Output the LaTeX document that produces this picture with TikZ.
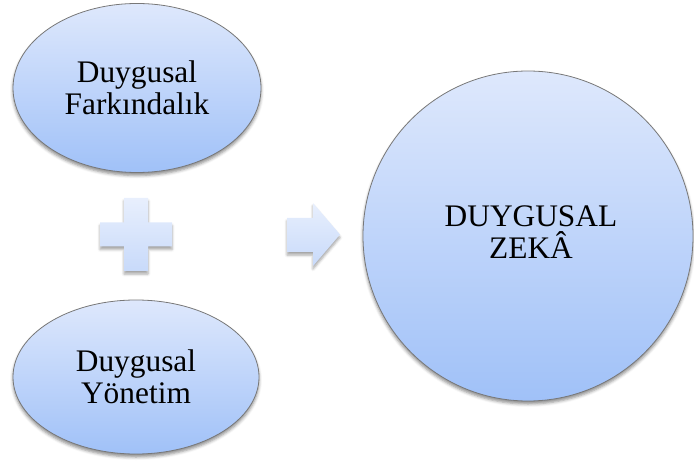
\documentclass[tikz,border=0pt]{standalone}
\usepackage{fontspec}
\setmainfont{Liberation Serif}
\usetikzlibrary{shapes.geometric,shadows.blur}

\definecolor{bubbletop}{RGB}{222,232,252}
\definecolor{bubblebot}{RGB}{160,193,248}
\definecolor{signtop}{RGB}{232,239,253}
\definecolor{signbot}{RGB}{200,218,250}
\definecolor{rimgray}{RGB}{120,120,120}

\tikzset{
  bubble/.style={draw=rimgray, line width=0.8bp, inner sep=0pt,
    top color=bubbletop, bottom color=bubblebot,
    align=center, text=black,
    font=\fontsize{31.5}{32}\selectfont,
    blur shadow={shadow xshift=0bp, shadow yshift=-3bp,
      shadow blur radius=3bp, shadow opacity=45}},
  caption/.style={inner sep=0pt, align=center, text=black,
    font=\fontsize{31.5}{32}\selectfont},
  sign/.style={top color=signtop, bottom color=signbot, draw=none,
    blur shadow={shadow xshift=0bp, shadow yshift=-3bp,
      shadow blur radius=2.5bp, shadow opacity=35}}
}

\begin{document}
\begin{tikzpicture}[x=1bp, y=-1bp]
  \useasboundingbox (0,0) rectangle (694,470);

  % the two components
  \node[bubble, ellipse, minimum width=248bp, minimum height=169bp]
    (aware) at (137,88) {Duygusal\\Farkındalık};
  \node[bubble, ellipse, minimum width=246bp, minimum height=154bp]
    (manage) at (136,377) {Duygusal\\Yönetim};

  % the result, its caption sits above the centre
  \node[bubble, circle, minimum size=330bp] (ei) at (528,236) {};
  \node[caption] (eitext) at (531,232) {DUYGUSAL\\ZEKÂ};

  % plus sign between the components
  \path[sign] (124,198) -- (148,198) -- (148,222.5) -- (172,222.5)
    -- (172,246.5) -- (148,246.5) -- (148,271) -- (124,271)
    -- (124,246.5) -- (100,246.5) -- (100,222.5) -- (124,222.5) -- cycle;

  % arrow towards the result
  \path[sign] (287,218) -- (313,218) -- (313,203) -- (340,234.5)
    -- (313,266) -- (313,252) -- (287,252) -- cycle;
\end{tikzpicture}
\end{document}
